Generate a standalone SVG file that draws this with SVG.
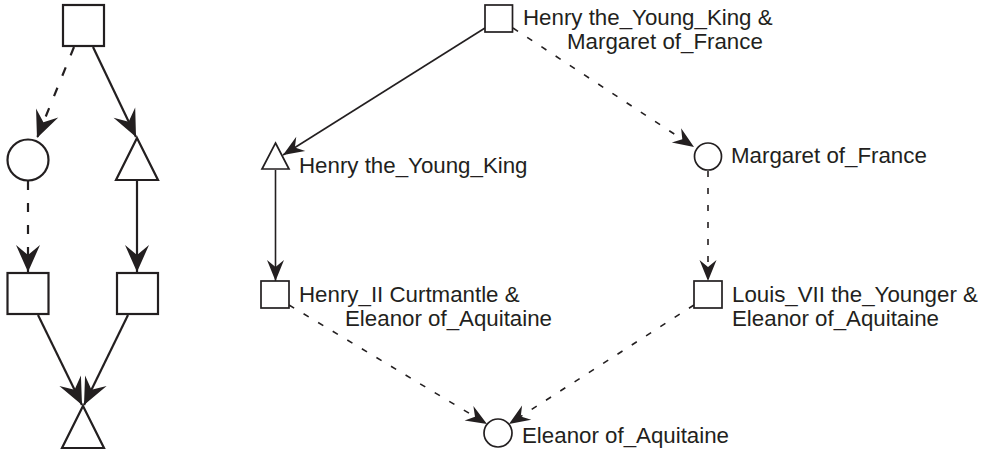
<svg xmlns="http://www.w3.org/2000/svg" width="990" height="455" viewBox="0 0 990 455">
<defs>
<style>
.bg{fill:#ffffff}
.nL{fill:#ffffff;stroke:#231f20;stroke-width:2.2}
.nR{fill:#ffffff;stroke:#231f20;stroke-width:1.7}
.eL{fill:none;stroke:#231f20;stroke-width:2.2}
.eR{fill:none;stroke:#231f20;stroke-width:1.6}
.dL{stroke-dasharray:9 13}
.dR{stroke-dasharray:6 11}
.aL{marker-end:url(#arrL)}
.aR{marker-end:url(#arrR)}
text{font-family:"Liberation Sans",Arial,Helvetica,sans-serif;font-size:22.3px;fill:#231f20}
</style>
<marker id="arrL" markerUnits="userSpaceOnUse" markerWidth="30" markerHeight="26" refX="27" refY="12" orient="auto" overflow="visible">
<path d="M27,12 L0,0 L10,12 L0,24 Z" fill="#231f20"/>
</marker>
<marker id="arrR" markerUnits="userSpaceOnUse" markerWidth="24" markerHeight="20" refX="21" refY="8.5" orient="auto" overflow="visible">
<path d="M21,8.5 L0,0 L7,8.5 L0,17 Z" fill="#231f20"/>
</marker>
</defs>
<rect class="bg" x="0" y="0" width="990" height="455"/>
<g id="connectors">
<line class="eL dL aL" x1="74" y1="47" x2="37" y2="138"/>
<line class="eL aL" x1="93" y1="47" x2="136" y2="137"/>
<line class="eL dL aL" x1="28" y1="181" x2="28" y2="272"/>
<line class="eL aL" x1="137" y1="181" x2="137" y2="272"/>
<line class="eL aL" x1="38" y1="315" x2="82" y2="405"/>
<line class="eL aL" x1="128" y1="315" x2="84" y2="405"/>
<line class="eR aR" x1="485" y1="28" x2="283" y2="155"/>
<line class="eR dR aR" x1="513" y1="28" x2="694" y2="147"/>
<line class="eR aR" x1="275.5" y1="170" x2="275.5" y2="281"/>
<line class="eR dR aR" x1="708" y1="171" x2="708" y2="281"/>
<line class="eR dR aR" x1="289" y1="305" x2="487" y2="424"/>
<line class="eR dR aR" x1="694" y1="305" x2="509" y2="424"/>
</g>
<g id="L_top"><rect class="nL" x="63" y="5" width="41" height="41"/></g>
<g id="L_circle"><circle class="nL" cx="28" cy="160" r="20.5"/></g>
<g id="L_tri"><polygon class="nL" points="137,138 158,180 116,180"/></g>
<g id="L_sq1"><rect class="nL" x="7.5" y="273" width="41" height="41"/></g>
<g id="L_sq2"><rect class="nL" x="117" y="273" width="41" height="41"/></g>
<g id="L_bottom"><polygon class="nL" points="83,406 104,448 62,448"/></g>
<g id="R_top">
<rect class="nR" x="485" y="5" width="27.5" height="27"/>
<text x="523" y="25">Henry the_Young_King &amp;</text>
<text x="567" y="49">Margaret of_France</text>
</g>
<g id="R_henry">
<polygon class="nR" points="275.5,143 289,169 262,169"/>
<text x="299" y="173">Henry the_Young_King</text>
</g>
<g id="R_margaret">
<circle class="nR" cx="708" cy="156.5" r="13.5"/>
<text x="731" y="163">Margaret of_France</text>
</g>
<g id="R_henryII">
<rect class="nR" x="261" y="281" width="28" height="27"/>
<text x="299" y="302">Henry_II Curtmantle &amp;</text>
<text x="345" y="326">Eleanor of_Aquitaine</text>
</g>
<g id="R_louis">
<rect class="nR" x="694" y="281" width="28" height="27"/>
<text x="732" y="302">Louis_VII the_Younger &amp;</text>
<text x="732" y="326">Eleanor of_Aquitaine</text>
</g>
<g id="R_eleanor">
<circle class="nR" cx="498" cy="433" r="14"/>
<text x="522" y="443">Eleanor of_Aquitaine</text>
</g>
</svg>
